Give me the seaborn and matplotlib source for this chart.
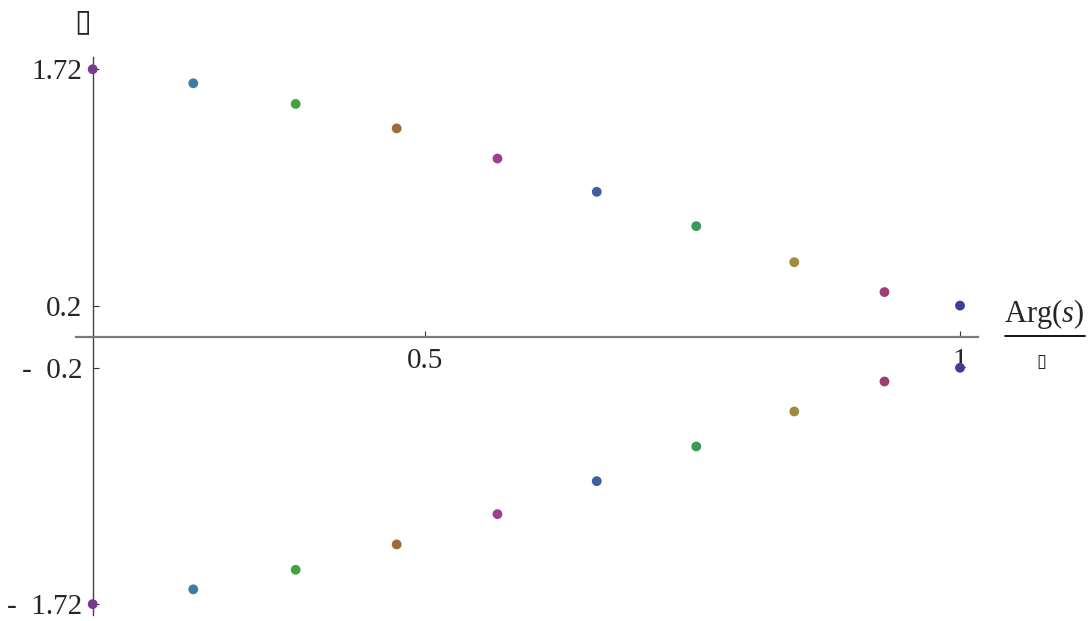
import matplotlib
matplotlib.use("Agg")
import matplotlib.pyplot as plt
from matplotlib.lines import Line2D
import seaborn as sns
import pandas as pd

# Normalised argument of each root and the corresponding values
arg_ratio = [0.1894, 0.2834, 0.3791, 0.4735, 0.5677, 0.6605, 0.7535, 0.8451, 0.9294, 1.0]
upper_vals = [1.72, 1.63, 1.497, 1.34, 1.146, 0.932, 0.711, 0.479, 0.287, 0.2]
lower_vals = [-1.72, -1.625, -1.499, -1.336, -1.141, -0.929, -0.706, -0.481, -0.288, -0.2]
point_colors = ["#7b3b8c", "#3d7ca3", "#46a042", "#9e6b3b", "#a03d92",
                "#3f5ea0", "#3b9a58", "#9e8c3c", "#a03c72", "#3d3d9e"]

x_ticks = [0.5, 1.0]
x_tick_labels = ["0.5", "1"]
y_ticks = [1.72, 0.2, -0.2, -1.72]
y_tick_labels = ["1.72", "0.2", "-  0.2", "-  1.72"]

sns.set_style("white")
plt.rcParams["font.family"] = ["Liberation Serif", "DejaVu Sans"]
plt.rcParams["mathtext.fontset"] = "custom"
plt.rcParams["mathtext.rm"] = "Liberation Serif"
plt.rcParams["mathtext.it"] = "Liberation Serif:italic"

fig = plt.figure(figsize=(10.89, 6.21), dpi=100)
ax = fig.add_axes([76 / 1089, 6 / 621, 902 / 1089, 558 / 621])

df = pd.DataFrame({
    "x": arg_ratio + arg_ratio,
    "y": upper_vals + lower_vals,
    "k": list(range(len(arg_ratio))) * 2,
})
palette = {i: c for i, c in enumerate(point_colors)}
sns.scatterplot(data=df, x="x", y="y", hue="k", palette=palette, s=50,
                edgecolor="none", legend=False, ax=ax, zorder=3)

ax.set_xlim(0.1738, 1.0168)
ax.set_ylim(-1.790, 1.799)
ax.set_xlabel("")
ax.set_ylabel("")

# Axes cross at the origin of the vertical values and the first argument
for side in ("top", "right"):
    ax.spines[side].set_visible(False)
ax.spines["left"].set_position(("data", arg_ratio[0]))
ax.spines["bottom"].set_position(("data", 0.0))
ax.spines["left"].set_color("#444444")
ax.spines["bottom"].set_color("#7a7a7a")
ax.spines["left"].set_linewidth(1.0)
ax.spines["bottom"].set_linewidth(1.6)

ax.set_xticks(x_ticks)
ax.set_xticklabels(x_tick_labels)
ax.set_yticks(y_ticks)
ax.set_yticklabels(y_tick_labels)
ax.tick_params(axis="x", bottom=True, direction="in", length=4, width=0.8,
               color="#333333", labelsize=21, pad=8)
ax.tick_params(axis="y", left=True, direction="in", length=4, width=0.8,
               color="#333333", labelsize=21, pad=7.5)
for lab in ax.get_xticklabels() + ax.get_yticklabels():
    lab.set_zorder(5)

# Axis labels: a fraction on the horizontal axis and a symbol on the vertical one
fig.text(1044 / 1089, 1 - 314 / 621, r"$\mathrm{Arg}(s)$", fontsize=22,
         ha="center", va="center")
fig.add_artist(Line2D([1005 / 1089, 1085 / 1089], [1 - 336 / 621, 1 - 336 / 621],
                      color="black", linewidth=1.3))
fig.text(1041 / 1089, 1 - 362 / 621, "\u25af", fontsize=13, ha="center",
         va="center", family=["DejaVu Sans"])
fig.text(83 / 1089, 1 - 22 / 621, "\u25af", fontsize=22, ha="center",
         va="center", family=["DejaVu Sans"])

fig.savefig("out.png", dpi=100)
